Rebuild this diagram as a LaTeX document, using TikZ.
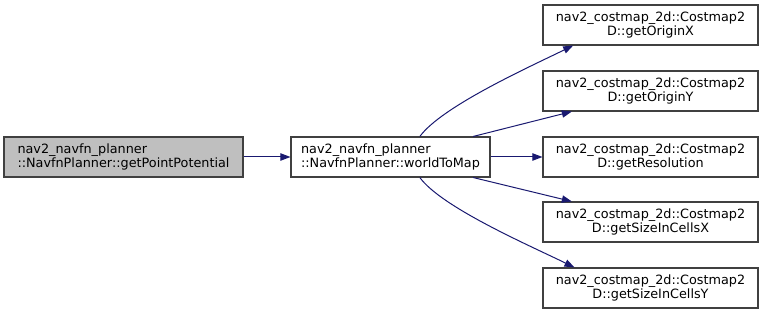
\documentclass[tikz,border=0pt]{standalone}
\usepackage{fontspec}
\setmainfont{DejaVu Sans}
\usetikzlibrary{arrows.meta,positioning}

\definecolor{edgeblue}{HTML}{191970}
\definecolor{nodegrey}{HTML}{BFBFBF}
\definecolor{nodeline}{HTML}{404040}

\begin{document}
\begin{tikzpicture}[
  x=0.75pt, y=-0.75pt,
  font=\fontsize{9.6}{11}\selectfont,
  fnbox/.style={draw=nodeline, fill=white, align=center, minimum height=30pt, inner sep=0pt, line width=0.8pt},
  caller/.style={fnbox, align=left},
  callee/.style={fnbox, minimum width=161.25pt},
  call/.style={-{Triangle[length=7.5pt,width=5.5pt,fill=edgeblue]}, draw=edgeblue, line width=0.75pt}
]
\useasboundingbox (0,0) rectangle (764,313);

\node[caller, fill=nodegrey, minimum width=179.25pt] (potential) at (123.5,157)
  {nav2\_navfn\_planner\\::NavfnPlanner::getPointPotential};
\node[caller, minimum width=149.25pt] (map) at (390.5,157)
  {nav2\_navfn\_planner\\::NavfnPlanner::worldToMap};

\node[callee] (originx) at (650.5,25) {nav2\_costmap\_2d::Costmap2\\D::getOriginX};
\node[callee] (originy) at (650.5,91) {nav2\_costmap\_2d::Costmap2\\D::getOriginY};
\node[callee] (resolution) at (650.5,157) {nav2\_costmap\_2d::Costmap2\\D::getResolution};
\node[callee] (sizex) at (650.5,222) {nav2\_costmap\_2d::Costmap2\\D::getSizeInCellsX};
\node[callee] (sizey) at (650.5,288) {nav2\_costmap\_2d::Costmap2\\D::getSizeInCellsY};

\draw[call] (potential) -- (map);

% calls out of worldToMap
\draw[call] ([xshift=22pt]map.north) .. controls +(22,-30) and +(-45,22) .. ([xshift=-58pt]originx.south);
\draw[call] ([xshift=62pt]map.north) -- ([xshift=-59pt]originy.south);
\draw[call] (map) -- (resolution);
\draw[call] ([xshift=62pt]map.south) -- ([xshift=-59pt]sizex.north);
\draw[call] ([xshift=22pt]map.south) .. controls +(22,30) and +(-45,-22) .. ([xshift=-57pt]sizey.north);

\end{tikzpicture}
\end{document}
